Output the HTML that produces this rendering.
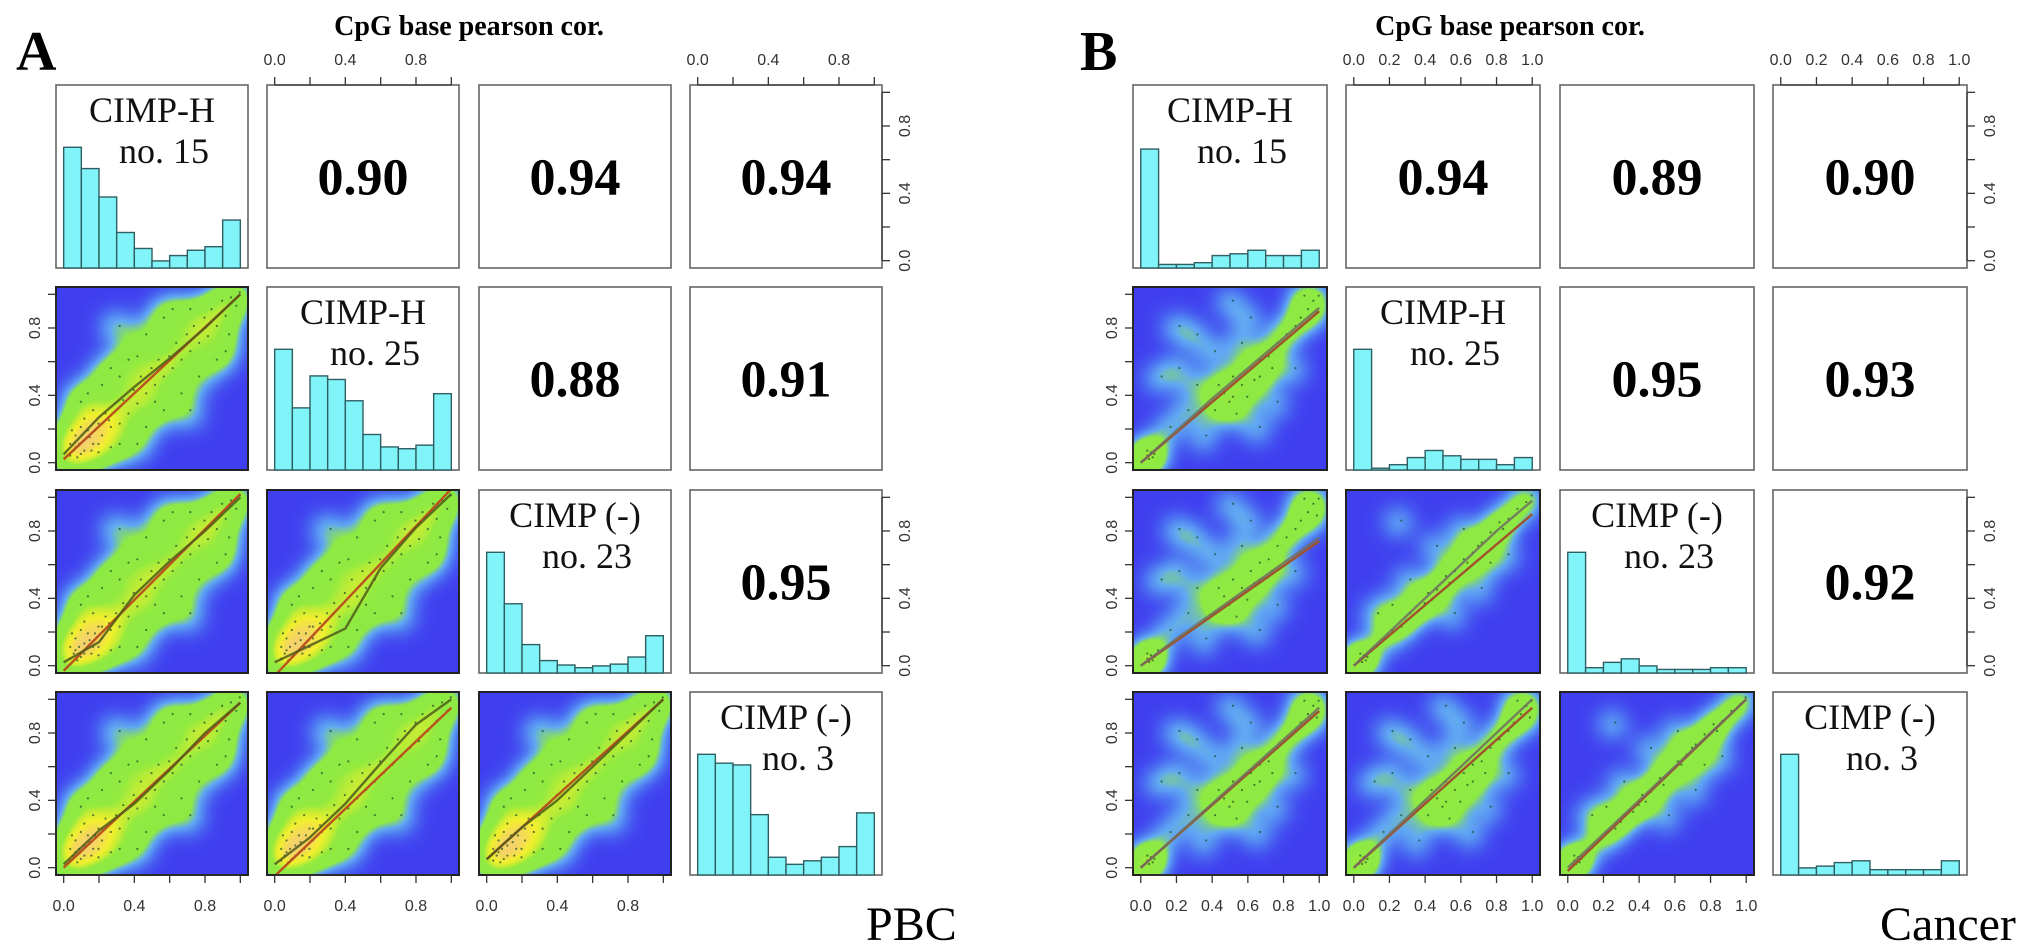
<!DOCTYPE html>
<html><head><meta charset="utf-8">
<style>
html,body{margin:0;padding:0;background:#fff;}
svg{display:block;}
</style></head>
<body>
<svg id="fig" width="2031" height="948" viewBox="0 0 2031 948" xmlns="http://www.w3.org/2000/svg">
<defs>
<filter id="dens" color-interpolation-filters="sRGB" x="-5%" y="-5%" width="110%" height="110%">
<feGaussianBlur in="SourceGraphic" stdDeviation="10"/>
<feColorMatrix type="matrix" values="0 0 0 1 0  0 0 0 1 0  0 0 0 1 0  0 0 0 0 1"/>
<feComponentTransfer>
<feFuncR type="table" tableValues="0.25 0.30 0.38 0.56 0.56 0.56 0.58 0.80 0.95 0.96 0.96"/>
<feFuncG type="table" tableValues="0.25 0.45 0.66 0.92 0.92 0.92 0.92 0.93 0.94 0.85 0.78"/>
<feFuncB type="table" tableValues="0.94 0.95 0.95 0.26 0.26 0.26 0.25 0.20 0.18 0.35 0.55"/>
</feComponentTransfer>
</filter>
</defs>
<text x="16" y="70" font-family="Liberation Serif, serif" font-weight="bold" font-size="56">A</text>
<text x="1080" y="70" font-family="Liberation Serif, serif" font-weight="bold" font-size="56">B</text>
<text x="469" y="35" text-anchor="middle" font-family="Liberation Serif, serif" font-weight="bold" font-size="28">CpG base pearson cor.</text>
<text x="1510" y="35" text-anchor="middle" font-family="Liberation Serif, serif" font-weight="bold" font-size="28">CpG base pearson cor.</text>
<text x="866" y="940" font-family="Liberation Serif, serif" font-size="48">PBC</text>
<text x="1880" y="940" font-family="Liberation Serif, serif" font-size="48">Cancer</text>
</svg>
<script>
// ---------- data ----------
const tickVals = [0, 0.2, 0.4, 0.6, 0.8, 1.0];
const tickLabelsA = ["0.0", "0.4", "0.8"];
const tickLabelValsA = [0, 0.4, 0.8];
const tickLabelsB = ["0.0", "0.2", "0.4", "0.6", "0.8", "1.0"];
const tickLabelValsB = [0, 0.2, 0.4, 0.6, 0.8, 1.0];
const sideLabels = ["0.0", "0.4", "0.8"];
const sideLabelVals = [0, 0.4, 0.8];

const histA1 = [0.68,0.56,0.40,0.20,0.11,0.04,0.07,0.10,0.12,0.27];
const histA2 = [0.68,0.35,0.53,0.51,0.39,0.20,0.13,0.12,0.14,0.43];
const histA3 = [0.68,0.39,0.16,0.07,0.045,0.03,0.04,0.05,0.09,0.21];
const histA4 = [0.68,0.63,0.62,0.34,0.10,0.06,0.08,0.10,0.16,0.35];
const histB1 = [0.67,0.02,0.02,0.03,0.07,0.08,0.10,0.07,0.07,0.10];
const histB2 = [0.68,0.01,0.03,0.07,0.11,0.08,0.06,0.06,0.03,0.07];
const histB3 = [0.68,0.03,0.06,0.08,0.04,0.02,0.02,0.02,0.03,0.03];
const histB4 = [0.68,0.04,0.05,0.07,0.08,0.03,0.03,0.03,0.03,0.08];

const corrA = ["0.90","0.94","0.94","0.88","0.91","0.95"];
const corrB = ["0.94","0.89","0.90","0.95","0.93","0.92"];
const groupNames = ["CIMP-H","CIMP-H","CIMP (-)","CIMP (-)"];
const sampleNames = ["no. 15","no. 25","no. 23","no. 3"];

const ptsA = [[0.02,0.03],[0.05,0.08],[0.08,0.04],[0.1,0.12],[0.12,0.18],[0.15,0.1],[0.18,0.22],[0.2,0.15],[0.22,0.28],[0.25,0.2],
[0.05,0.15],[0.1,0.25],[0.15,0.3],[0.28,0.3],[0.3,0.22],[0.06,0.02],[0.14,0.06],[0.02,0.1],[0.32,0.36],[0.35,0.28],
[0.38,0.42],[0.4,0.34],[0.42,0.5],[0.45,0.4],[0.48,0.55],[0.5,0.45],[0.52,0.6],[0.55,0.5],[0.58,0.62],[0.6,0.55],
[0.62,0.7],[0.65,0.6],[0.68,0.75],[0.7,0.65],[0.72,0.8],[0.75,0.7],[0.78,0.85],[0.8,0.74],[0.82,0.9],[0.85,0.8],
[0.88,0.95],[0.9,0.86],[0.93,0.97],[0.96,0.92],[0.98,1.0],[0.2,0.45],[0.25,0.55],[0.35,0.6],[0.45,0.75],[0.55,0.85],
[0.3,0.1],[0.45,0.2],[0.55,0.3],[0.65,0.4],[0.75,0.5],[0.85,0.6],[0.12,0.4],[0.4,0.1],[0.6,0.9],[0.9,0.65],
[0.08,0.35],[0.18,0.1],[0.25,0.08],[0.3,0.5],[0.4,0.62],[0.7,0.9],[0.92,0.75],[0.5,0.35],[0.3,0.8],[0.7,0.3],
[0.04,0.06],[0.07,0.1],[0.1,0.06],[0.13,0.14],[0.16,0.18],[0.2,0.22],[0.24,0.24],[0.08,0.2],[0.18,0.05],[0.03,0.18]];
const ptsB1 = [[0.01,0.01],[0.02,0.03],[0.03,0.01],[0.04,0.05],[0.05,0.02],[0.02,0.06],[0.06,0.04],[0.08,0.08],
[0.45,0.4],[0.5,0.5],[0.48,0.35],[0.55,0.45],[0.6,0.55],[0.52,0.28],[0.58,0.38],[0.62,0.48],[0.65,0.6],[0.7,0.62],
[0.72,0.55],[0.75,0.7],[0.8,0.75],[0.85,0.8],[0.88,0.85],[0.92,0.9],[0.95,0.95],[0.98,0.98],[0.9,0.98],[0.97,0.88],
[0.15,0.2],[0.25,0.3],[0.3,0.45],[0.2,0.55],[0.1,0.5],[0.35,0.15],[0.4,0.65],[0.6,0.85],[0.5,0.95],[0.75,0.35],
[0.85,0.55],[0.65,0.2],[0.3,0.75],[0.2,0.8],[0.4,0.3],[0.55,0.7],[0.42,0.45],[0.5,0.38],[0.65,0.5]];
const ptsB2 = [[0.01,0.01],[0.02,0.03],[0.03,0.01],[0.04,0.05],[0.05,0.02],[0.02,0.06],[0.06,0.04],
[0.15,0.14],[0.2,0.2],[0.25,0.22],[0.3,0.3],[0.35,0.32],[0.4,0.42],[0.45,0.44],[0.5,0.52],[0.55,0.55],[0.6,0.62],
[0.65,0.66],[0.7,0.72],[0.75,0.78],[0.8,0.84],[0.85,0.86],[0.9,0.92],[0.95,0.96],[0.98,1.0],[0.38,0.36],[0.62,0.6],
[0.2,0.35],[0.3,0.5],[0.25,0.85],[0.45,0.7],[0.55,0.3],[0.7,0.45],[0.85,0.65],[0.12,0.3],[0.6,0.8],[0.75,0.6],
[0.28,0.26],[0.42,0.38],[0.52,0.48],[0.68,0.7],[0.82,0.8]];

const loessX = [0, 0.2, 0.4, 0.6, 0.8, 1.0];
const loA21 = [0.05,0.27,0.45,0.62,0.8,1.0];
const loA31 = [0.02,0.14,0.42,0.62,0.8,1.0];
const loA32 = [0.02,0.12,0.22,0.58,0.82,1.02];
const loA41 = [0.02,0.22,0.38,0.58,0.8,0.98];
const loA42 = [0.02,0.18,0.38,0.62,0.85,1.0];
const loA43 = [0.05,0.24,0.4,0.6,0.8,1.0];
const loB21 = [0,0.19,0.38,0.56,0.74,0.92];
const loB31 = [0,0.16,0.31,0.46,0.61,0.76];
const loB32 = [0,0.2,0.4,0.6,0.8,0.98];
const loB41 = [0,0.19,0.38,0.57,0.76,0.95];
const loB42 = [0,0.2,0.4,0.6,0.8,1.0];
const loB43 = [0,0.2,0.4,0.6,0.8,1.0];
const fitA21 = [0.02,1.0]; const fitA31 = [-0.03,1.02]; const fitA32 = [-0.06,1.05];
const fitA41 = [0.0,0.98]; const fitA42 = [-0.05,0.95]; const fitA43 = [0.05,1.0];
const fitB21 = [0,0.9]; const fitB31 = [0,0.74]; const fitB32 = [0,0.9];
const fitB41 = [0,0.93]; const fitB42 = [0,0.95]; const fitB43 = [-0.02,1.0];

// ---------- layout ----------
const NS = "http://www.w3.org/2000/svg";
const svg = document.getElementById("fig");
const rowsY = [85, 287, 490, 692], cellH = 183;
const panels = [
  {id:"a", xs:[56,267,479,690], w:192, hists:[histA1,histA2,histA3,histA4], corr:corrA,
   pts:{"1-0":ptsA,"2-0":ptsA,"2-1":ptsA,"3-0":ptsA,"3-1":ptsA,"3-2":ptsA}, ptR:16, ptOp:0.28,
   lo:{"1-0":loA21,"2-0":loA31,"2-1":loA32,"3-0":loA41,"3-1":loA42,"3-2":loA43},
   fit:{"1-0":fitA21,"2-0":fitA31,"2-1":fitA32,"3-0":fitA41,"3-1":fitA42,"3-2":fitA43},
   tl:tickLabelsA, tlv:tickLabelValsA, lineCols:["#b8521e","#4f5a1a"]},
  {id:"b", xs:[1133,1346,1560,1773], w:194, hists:[histB1,histB2,histB3,histB4], corr:corrB,
   pts:{"1-0":ptsB1,"2-0":ptsB1,"2-1":ptsB2,"3-0":ptsB1,"3-1":ptsB1,"3-2":ptsB2}, ptR:14, ptOp:0.25,
   lo:{"1-0":loB21,"2-0":loB31,"2-1":loB32,"3-0":loB41,"3-1":loB42,"3-2":loB43},
   fit:{"1-0":fitB21,"2-0":fitB31,"2-1":fitB32,"3-0":fitB41,"3-1":fitB42,"3-2":fitB43},
   tl:tickLabelsB, tlv:tickLabelValsB, lineCols:["#a0522d","#707060"]}
];

function mk(tag, attrs, parent){ const e=document.createElementNS(NS,tag); for(const k in attrs) e.setAttribute(k,attrs[k]); (parent||svg).appendChild(e); return e; }
function cell(p,r,c){ return {x:p.xs[c], y:rowsY[r], w:p.w, h:cellH}; }
function sx(cl,v){ return cl.x + cl.w*0.04 + v*cl.w*0.92; }
function sy(cl,v){ return cl.y + cl.h - cl.h*0.04 - v*cl.h*0.92; }
function hy(cl,v){ return cl.y + cl.h - v*cl.h*0.97; }
const tickFont = {"font-family":"Liberation Sans, sans-serif","font-size":"16","fill":"#333"};

let clipN = 0;
panels.forEach(p => {
  for (let r=0;r<4;r++) for (let c=0;c<4;c++) {
    const cl = cell(p,r,c);
    const g = mk("g",{});
    
    
    if (r===c) {
      const box = mk("rect",{x:cl.x,y:cl.y,width:cl.w,height:cl.h,fill:"#fff",stroke:"#666","stroke-width":1.6},g);
      
      
      const hv = p.hists[r];
      hv.forEach((v,i) => {
        const x0 = sx(cl, i/10), x1 = sx(cl,(i+1)/10);
        const b = mk("rect",{x:x0,y:hy(cl,v),width:x1-x0,height:cl.y+cl.h-hy(cl,v),fill:"#80f4f8",stroke:"#2f5f63","stroke-width":1.4},g);
        
        
      });
      const t1 = mk("text",{x:cl.x+cl.w/2,y:cl.y+37,"text-anchor":"middle","font-family":"Liberation Serif, serif","font-size":"36",fill:"#111"},g);
      t1.textContent = groupNames[r];
      
      
      const t2 = mk("text",{x:cl.x+cl.w/2+12,y:cl.y+78,"text-anchor":"middle","font-family":"Liberation Serif, serif","font-size":"36",fill:"#111"},g);
      t2.textContent = sampleNames[r];
      
      
    } else if (c>r) {
      const box = mk("rect",{x:cl.x,y:cl.y,width:cl.w,height:cl.h,fill:"#fff",stroke:"#666","stroke-width":1.6},g);
      
      
      const idx = r===0 ? c-1 : (r===1 ? c+1 : 5);
      const t = mk("text",{x:cl.x+cl.w/2,y:cl.y+cl.h/2+18,"text-anchor":"middle","font-family":"Liberation Serif, serif","font-weight":"bold","font-size":"52",fill:"#000"},g);
      t.textContent = p.corr[idx];
      
      
    } else {
      const key = r+"-"+c;
      const cid = "clip"+(clipN++);
      const cp = mk("clipPath",{id:cid},g);
      mk("rect",{x:cl.x,y:cl.y,width:cl.w,height:cl.h},cp);
      const cg = mk("g",{"clip-path":"url(#"+cid+")"},g);
      mk("rect",{x:cl.x,y:cl.y,width:cl.w,height:cl.h,fill:"#4040f0"},cg);
      const dg = mk("g",{filter:"url(#dens)"},cg);
      
      
      mk("rect",{x:cl.x-10,y:cl.y-10,width:cl.w+20,height:cl.h+20,fill:"#fff","fill-opacity":0},dg);
      p.pts[key].forEach(pt => {
        mk("circle",{cx:sx(cl,pt[0]),cy:sy(cl,pt[1]),r:p.ptR,fill:"#fff","fill-opacity":p.ptOp},dg);
      });
      p.pts[key].forEach(pt => {
        const d = mk("circle",{cx:sx(cl,pt[0])+3,cy:sy(cl,pt[1])-2,r:1.1,fill:"#1f4a2a","fill-opacity":0.7},cg);
        
        
      });
      const f = p.fit[key];
      const fl = mk("line",{x1:sx(cl,0),y1:sy(cl,f[0]),x2:sx(cl,1),y2:sy(cl,f[1]),stroke:p.lineCols[0],"stroke-width":2.4},cg);
      
      
      const lo = p.lo[key];
      const d = lo.map((v,i)=> (i?"L":"M")+sx(cl,loessX[i]).toFixed(1)+","+sy(cl,v).toFixed(1)).join(" ");
      const lp = mk("path",{d:d,fill:"none",stroke:p.lineCols[1],"stroke-width":2.4,"stroke-opacity":0.85,"stroke-linejoin":"round"},cg);
      
      
      const box = mk("rect",{x:cl.x,y:cl.y,width:cl.w,height:cl.h,fill:"none",stroke:"#222","stroke-width":2},g);
      
      
    }
  }
  [1,3].forEach(c => {
    const cl = cell(p,0,c);
    const ax = mk("g",{stroke:"#333","stroke-width":1.3});
    
    
    mk("line",{x1:sx(cl,0),y1:cl.y,x2:sx(cl,1),y2:cl.y},ax);
    tickVals.forEach(v => mk("line",{x1:sx(cl,v),y1:cl.y,x2:sx(cl,v),y2:cl.y-8},ax));
    p.tl.forEach((lab,i) => {
      const t = mk("text",Object.assign({x:sx(cl,p.tlv[i]),y:cl.y-20,"text-anchor":"middle"},tickFont));
      t.textContent = lab;
      
      
    });
  });
  [0,1,2].forEach(c => {
    const cl = cell(p,3,c);
    const ax = mk("g",{stroke:"#333","stroke-width":1.3});
    
    
    mk("line",{x1:sx(cl,0),y1:cl.y+cl.h,x2:sx(cl,1),y2:cl.y+cl.h},ax);
    tickVals.forEach(v => mk("line",{x1:sx(cl,v),y1:cl.y+cl.h,x2:sx(cl,v),y2:cl.y+cl.h+8},ax));
    p.tl.forEach((lab,i) => {
      const t = mk("text",Object.assign({x:sx(cl,p.tlv[i]),y:cl.y+cl.h+36,"text-anchor":"middle"},tickFont));
      t.textContent = lab;
      
      
    });
  });
  [1,2,3].forEach(r => {
    const cl = cell(p,r,0);
    const ax = mk("g",{stroke:"#333","stroke-width":1.3});
    
    
    mk("line",{x1:cl.x,y1:sy(cl,0),x2:cl.x,y2:sy(cl,1)},ax);
    tickVals.forEach(v => mk("line",{x1:cl.x,y1:sy(cl,v),x2:cl.x-8,y2:sy(cl,v)},ax));
    sideLabels.forEach((lab,i) => {
      const x = cl.x-16, y = sy(cl,sideLabelVals[i]);
      const t = mk("text",Object.assign({x:x,y:y,"text-anchor":"middle",transform:"rotate(-90 "+x+" "+y+")"},tickFont));
      t.textContent = lab;
      
      
    });
  });
  [0,2].forEach(r => {
    const cl = cell(p,r,3);
    const ax = mk("g",{stroke:"#333","stroke-width":1.3});
    
    
    const xr = cl.x+cl.w;
    mk("line",{x1:xr,y1:sy(cl,0),x2:xr,y2:sy(cl,1)},ax);
    tickVals.forEach(v => mk("line",{x1:xr,y1:sy(cl,v),x2:xr+8,y2:sy(cl,v)},ax));
    sideLabels.forEach((lab,i) => {
      const x = xr+28, y = sy(cl,sideLabelVals[i]);
      const t = mk("text",Object.assign({x:x,y:y,"text-anchor":"middle",transform:"rotate(-90 "+x+" "+y+")"},tickFont));
      t.textContent = lab;
      
      
    });
  });
});
</script>
</body></html>
